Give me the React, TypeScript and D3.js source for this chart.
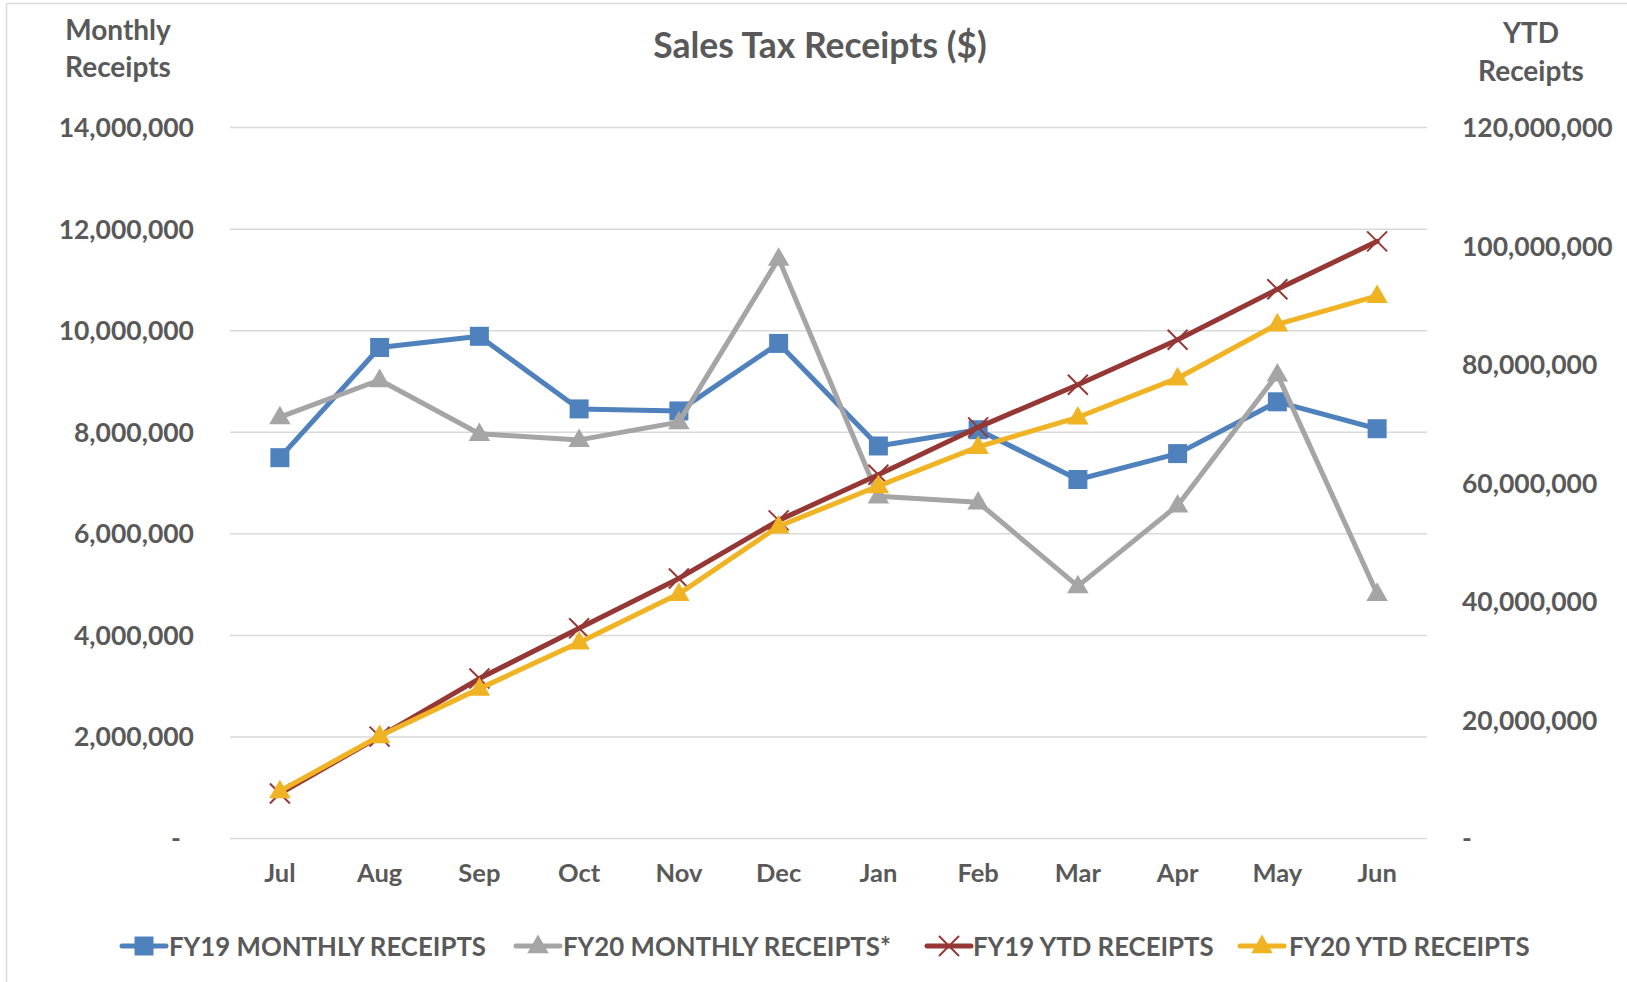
import React from "react";
import * as d3 from "d3";

const months = ["Jul", "Aug", "Sep", "Oct", "Nov", "Dec", "Jan", "Feb", "Mar", "Apr", "May", "Jun"];
const fy19Monthly = [7.5e6, 9.67e6, 9.89e6, 8.46e6, 8.42e6, 9.75e6, 7.73e6, 8.05e6, 7.07e6, 7.58e6, 8.6e6, 8.07e6];
const fy20Monthly = [8.3e6, 9.03e6, 7.97e6, 7.85e6, 8.2e6, 11.42e6, 6.74e6, 6.62e6, 4.97e6, 6.56e6, 9.14e6, 4.82e6];
const fy19Ytd = [7.6e6, 17.2e6, 27.0e6, 35.5e6, 43.9e6, 53.7e6, 61.4e6, 69.4e6, 76.6e6, 84.2e6, 92.7e6, 100.8e6];
const fy20Ytd = [8.0e6, 17.3e6, 25.3e6, 33.1e6, 41.3e6, 52.7e6, 59.5e6, 66.1e6, 71.1e6, 77.7e6, 86.8e6, 91.6e6];
const leftTicks = [0, 2e6, 4e6, 6e6, 8e6, 10e6, 12e6, 14e6];
const rightTicks = [0, 20e6, 40e6, 60e6, 80e6, 100e6, 120e6];
const seriesNames = ["FY19 MONTHLY RECEIPTS", "FY20 MONTHLY RECEIPTS*", "FY19 YTD RECEIPTS", "FY20 YTD RECEIPTS"];

const W = 1627, H = 982;
const L = 230, R = 1427, T = 127.6, B = 838.5;
const TXT = "#595959";
const FONT = "Lato, 'Open Sans', sans-serif";

type Series = { name: string; values: number[]; color: string; axis: "left" | "right"; marker: "square" | "triangle" | "x" };

export default function App() {
  const x = d3.scaleBand<string>().domain(months).range([L, R]);
  const cx = (m: string) => (x(m) as number) + x.bandwidth() / 2;
  const yL = d3.scaleLinear().domain([0, 14e6]).range([B, T]);
  const yR = d3.scaleLinear().domain([0, 120e6]).range([B, T]);
  const fmt = d3.format(",");

  const series: Series[] = [
    { name: seriesNames[0], values: fy19Monthly, color: "#4F81BD", axis: "left", marker: "square" },
    { name: seriesNames[1], values: fy20Monthly, color: "#A5A5A5", axis: "left", marker: "triangle" },
    { name: seriesNames[2], values: fy19Ytd, color: "#953735", axis: "right", marker: "x" },
    { name: seriesNames[3], values: fy20Ytd, color: "#F0B323", axis: "right", marker: "triangle" },
  ];

  const marker = (s: Series, px: number, py: number, key: string | number) => {
    if (s.marker === "square") return <rect key={key} x={px - 9.5} y={py - 9.5} width={19} height={19} fill={s.color} />;
    if (s.marker === "triangle") {
      const sym = d3.symbol().type(d3.symbolTriangle).size(200)();
      return <path key={key} d={sym as string} transform={`translate(${px},${py + 1})`} fill={s.color} />;
    }
    return (
      <g key={key} stroke={s.color} strokeWidth={2}>
        <line x1={px - 10} y1={py - 10} x2={px + 10} y2={py + 10} />
        <line x1={px - 10} y1={py + 10} x2={px + 10} y2={py - 10} />
      </g>
    );
  };

  const legendPos = [
    { lx: 122, tx: 169 },
    { lx: 516, tx: 563 },
    { lx: 927, tx: 973 },
    { lx: 1240, tx: 1289 },
  ];
  const legY = 946;

  return (
    <svg width={W} height={H} style={{ position: "absolute", left: 0, top: 0, background: "#fff" }} fontFamily={FONT}>
      <rect x={0} y={0} width={W} height={H} fill="#fff" />
      <line x1={6.5} y1={3.5} x2={6.5} y2={H} stroke="#d9d9d9" strokeWidth={1.5} />
      <line x1={6.5} y1={3.5} x2={W} y2={3.5} stroke="#d9d9d9" strokeWidth={1.5} />

      {leftTicks.map((t) => (
        <line key={t} x1={L} x2={R} y1={yL(t)} y2={yL(t)} stroke="#d9d9d9" strokeWidth={1.5} />
      ))}

      <text x={820} y={58} textAnchor="middle" fontSize={35.5} fontWeight={700} fill={TXT}>Sales Tax Receipts ($)</text>
      <text x={118} y={40} textAnchor="middle" fontSize={28} fontWeight={700} fill={TXT}>Monthly</text>
      <text x={118} y={77} textAnchor="middle" fontSize={28} fontWeight={700} fill={TXT}>Receipts</text>
      <text x={1531} y={43} textAnchor="middle" fontSize={28} fontWeight={700} fill={TXT}>YTD</text>
      <text x={1531} y={81} textAnchor="middle" fontSize={28} fontWeight={700} fill={TXT}>Receipts</text>

      {leftTicks.map((t) => (
        <text key={t} x={t === 0 ? 181 : 194} y={yL(t) + 9.5} textAnchor="end" fontSize={26.5} fontWeight={700} fill={TXT}>
          {t === 0 ? "-" : fmt(t)}
        </text>
      ))}
      {rightTicks.map((t) => (
        <text key={t} x={1462} y={yR(t) + 9.5} textAnchor="start" fontSize={26.5} fontWeight={700} fill={TXT}>
          {t === 0 ? "-" : fmt(t)}
        </text>
      ))}
      {months.map((m) => (
        <text key={m} x={cx(m)} y={882} textAnchor="middle" fontSize={25.5} fontWeight={700} fill={TXT}>{m}</text>
      ))}

      {series.map((s, si) => {
        const y = s.axis === "left" ? yL : yR;
        const line = d3.line<number>().x((_, i) => cx(months[i])).y((v) => y(v));
        return (
          <g key={si}>
            <path d={line(s.values) as string} fill="none" stroke={s.color} strokeWidth={5} strokeLinejoin="round" strokeLinecap="round" />
            {s.values.map((v, i) => marker(s, cx(months[i]), y(v), i))}
          </g>
        );
      })}

      {series.map((s, si) => {
        const p = legendPos[si];
        return (
          <g key={si}>
            <line x1={p.lx} x2={p.lx + 44} y1={legY} y2={legY} stroke={s.color} strokeWidth={5} strokeLinecap="round" />
            {marker(s, p.lx + 22, legY, "m")}
            <text x={p.tx} y={legY + 9.5} fontSize={25.8} fontWeight={700} fill={TXT}>{s.name}</text>
          </g>
        );
      })}
    </svg>
  );
}
